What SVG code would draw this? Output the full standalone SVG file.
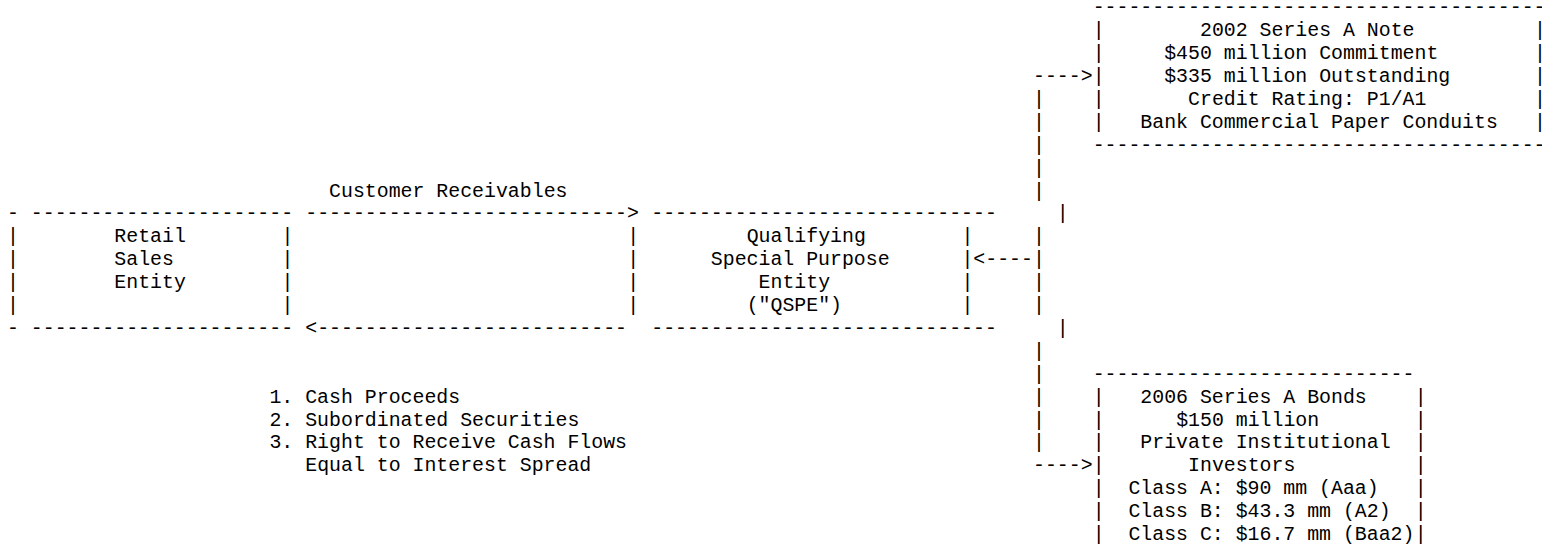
<svg xmlns="http://www.w3.org/2000/svg" width="1542" height="553" viewBox="0 0 1542 553">
<style>
text{font-family:"Liberation Mono","DejaVu Sans Mono",monospace;font-size:19.88px;fill:#000;white-space:pre}
</style>
<rect width="1542" height="553" fill="#fff"/>
<g id="retail-entity">
<text x="7" y="219.4">-</text>
<text x="30.86" y="219.4">----------------------</text>
<text x="7" y="242.3">|</text><text x="281.39" y="242.3">|</text>
<text x="7" y="265.2">|</text><text x="281.39" y="265.2">|</text>
<text x="7" y="288.1">|</text><text x="281.39" y="288.1">|</text>
<text x="7" y="311">|</text><text x="281.39" y="311">|</text>
<text x="7" y="333.9">-</text>
<text x="30.86" y="333.9">----------------------</text>
<text x="114.37" y="242.3">Retail</text>
<text x="114.37" y="265.2">Sales</text>
<text x="114.37" y="288.1">Entity</text>
</g>
<g id="qspe">
<text x="651.22" y="219.4">-----------------------------</text>
<text x="627.36" y="242.3">|</text><text x="961.4" y="242.3">|</text>
<text x="627.36" y="265.2">|</text><text x="961.4" y="265.2">|</text>
<text x="627.36" y="288.1">|</text><text x="961.4" y="288.1">|</text>
<text x="627.36" y="311">|</text><text x="961.4" y="311">|</text>
<text x="651.22" y="333.9">-----------------------------</text>
<text x="746.66" y="242.3">Qualifying</text>
<text x="710.87" y="265.2">Special Purpose</text>
<text x="758.59" y="288.1">Entity</text>
<text x="746.66" y="311">("QSPE")</text>
</g>
<g id="note-2002">
<text x="1092.63" y="13.3">--------------------------------------</text>
<text x="1092.63" y="36.2">|</text><text x="1534.04" y="36.2">|</text>
<text x="1092.63" y="59.1">|</text><text x="1534.04" y="59.1">|</text>
<text x="1092.63" y="82">|</text><text x="1534.04" y="82">|</text>
<text x="1092.63" y="104.9">|</text><text x="1534.04" y="104.9">|</text>
<text x="1092.63" y="127.8">|</text><text x="1534.04" y="127.8">|</text>
<text x="1092.63" y="150.7">--------------------------------------</text>
<text x="1200" y="36.2">2002 Series A Note</text>
<text x="1164.21" y="59.1">$450 million Commitment</text>
<text x="1164.21" y="82">$335 million Outstanding</text>
<text x="1188.07" y="104.9">Credit Rating: P1/A1</text>
<text x="1140.35" y="127.8">Bank Commercial Paper Conduits</text>
</g>
<g id="bonds-2006">
<text x="1092.63" y="379.7">---------------------------</text>
<text x="1092.63" y="402.6">|</text><text x="1414.74" y="402.6">|</text>
<text x="1092.63" y="425.5">|</text><text x="1414.74" y="425.5">|</text>
<text x="1092.63" y="448.4">|</text><text x="1414.74" y="448.4">|</text>
<text x="1092.63" y="471.3">|</text><text x="1414.74" y="471.3">|</text>
<text x="1092.63" y="494.2">|</text><text x="1414.74" y="494.2">|</text>
<text x="1092.63" y="517.1">|</text><text x="1414.74" y="517.1">|</text>
<text x="1092.63" y="540">|</text><text x="1414.74" y="540">|</text>
<text x="1140.35" y="402.6">2006 Series A Bonds</text>
<text x="1176.14" y="425.5">$150 million</text>
<text x="1140.35" y="448.4">Private Institutional</text>
<text x="1188.07" y="471.3">Investors</text>
<text x="1128.42" y="494.2">Class A: $90 mm (Aaa)</text>
<text x="1128.42" y="517.1">Class B: $43.3 mm (A2)</text>
<text x="1128.42" y="540">Class C: $16.7 mm (Baa2)</text>
</g>
<g id="connectors">
<text x="305.25" y="219.4">---------------------------&gt;</text>
<text x="305.25" y="333.9">&lt;--------------------------</text>
<text x="973.33" y="265.2">&lt;----</text>
<text x="1032.98" y="82">----&gt;</text>
<text x="1032.98" y="471.3">----&gt;</text>
<text x="1032.98" y="104.9">|</text>
<text x="1032.98" y="127.8">|</text>
<text x="1032.98" y="150.7">|</text>
<text x="1032.98" y="173.6">|</text>
<text x="1032.98" y="196.5">|</text>
<text x="1056.84" y="219.4">|</text>
<text x="1032.98" y="242.3">|</text>
<text x="1032.98" y="265.2">|</text>
<text x="1032.98" y="288.1">|</text>
<text x="1032.98" y="311">|</text>
<text x="1056.84" y="333.9">|</text>
<text x="1032.98" y="356.8">|</text>
<text x="1032.98" y="379.7">|</text>
<text x="1032.98" y="402.6">|</text>
<text x="1032.98" y="425.5">|</text>
<text x="1032.98" y="448.4">|</text>
</g>
<g id="labels">
<text x="329.11" y="196.5">Customer Receivables</text>
<text x="269.46" y="402.6">1. Cash Proceeds</text>
<text x="269.46" y="425.5">2. Subordinated Securities</text>
<text x="269.46" y="448.4">3. Right to Receive Cash Flows</text>
<text x="305.25" y="471.3">Equal to Interest Spread</text>
</g>
</svg>
